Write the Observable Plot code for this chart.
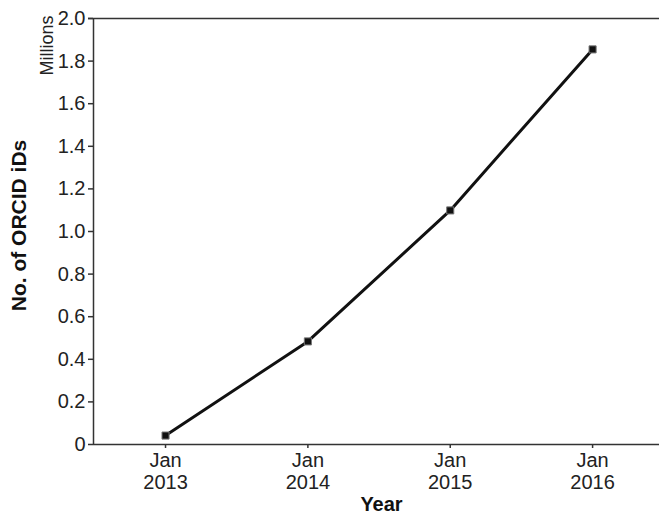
<!DOCTYPE html>
<html>
<head>
<meta charset="utf-8">
<script src="https://cdn.jsdelivr.net/npm/d3@7"></script>
<script src="https://cdn.jsdelivr.net/npm/@observablehq/plot@0.6"></script>
<style>
  html, body { margin: 0; padding: 0; background: #fff; }
  #chart svg { display: block; }
  #chart g[aria-label$="tick label"] { font-size: 20px !important; }
</style>
</head>
<body>
<div id="chart"></div>
<script>
const years = [2013, 2014, 2015, 2016];
const orcidMillions = [0.042, 0.484, 1.099, 1.855];
const yTicks = [0, 0.2, 0.4, 0.6, 0.8, 1.0, 1.2, 1.4, 1.6, 1.8, 2.0];
const xTickLabels = ["Jan\n2013", "Jan\n2014", "Jan\n2015", "Jan\n2016"];

const data = years.map((y, i) => ({year: y, value: orcidMillions[i]}));
const font = "'Liberation Sans', Arial, Helvetica, sans-serif";
const axisColor = "#333";

const chart = Plot.plot({
  width: 659,
  height: 518,
  marginLeft: 93,
  marginRight: 0,
  marginTop: 18,
  marginBottom: 74,
  style: {fontFamily: font, fontSize: "20px", color: "#222", background: "#fff"},
  x: {type: "linear", domain: [2012.494, 2016.47]},
  y: {domain: [0, 2]},
  marks: [
    Plot.axisY({ticks: yTicks, tickSize: 5, tickPadding: 3, stroke: axisColor, strokeWidth: 1.5,
      tickFormat: d => d === 0 ? "0" : d.toFixed(1), label: null, fontSize: 20}),
    Plot.axisX({ticks: years, tickSize: 4, tickPadding: 3, stroke: axisColor, strokeWidth: 1.5,
      tickFormat: d => xTickLabels[years.indexOf(d)], label: null, fontSize: 20, lineHeight: 1.1}),
    Plot.ruleX([2012.494], {y1: 0, y2: 2, stroke: axisColor, strokeWidth: 1.5}),
    Plot.ruleY([0], {stroke: axisColor, strokeWidth: 1.5}),
    Plot.ruleY([2], {stroke: axisColor, strokeWidth: 1.5, insetLeft: -5}),
    Plot.line(data, {x: "year", y: "value", stroke: "#111", strokeWidth: 3}),
    Plot.dot(data, {x: "year", y: "value", symbol: "square", r: 4, fill: "#111", stroke: "#777", strokeWidth: 1}),
    Plot.text(["No. of ORCID iDs"], {frameAnchor: "left", rotate: -90, dx: -74, dy: -6,
      fontWeight: "bold", fontSize: 21, fill: "#111", textAnchor: "middle"}),
    Plot.text(["Millions"], {frameAnchor: "top-left", rotate: -90, dx: -53, dy: 27,
      fontSize: 18, fill: "#222", textAnchor: "middle"}),
    Plot.text(["Year"], {frameAnchor: "bottom", dx: 5, dy: 66,
      fontWeight: "bold", fontSize: 20, fill: "#111", textAnchor: "middle"})
  ]
});
document.getElementById("chart").appendChild(chart);
</script>
</body>
</html>
